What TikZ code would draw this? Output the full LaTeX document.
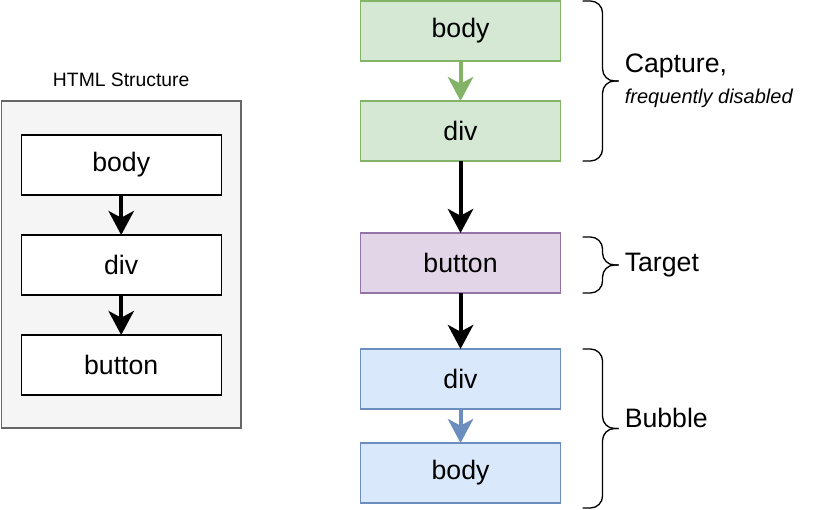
\documentclass[tikz,border=0pt]{standalone}
\usepackage{fontspec}
\setmainfont{Liberation Sans}
\usepackage{xcolor}
\usetikzlibrary{positioning, calc, arrows.meta}
\definecolor{panelfill}{HTML}{F5F5F5}
\definecolor{paneldraw}{HTML}{666666}
\definecolor{capfill}{HTML}{D5E8D4}
\definecolor{capdraw}{HTML}{82B366}
\definecolor{tgtfill}{HTML}{E1D5E7}
\definecolor{tgtdraw}{HTML}{9673A6}
\definecolor{bubfill}{HTML}{DAE8FC}
\definecolor{bubdraw}{HTML}{6C8EBF}
\tikzstyle{htmlbox} = [rectangle, minimum width=150pt, minimum height=45pt, text centered, draw=black, fill=white, line width=1pt, outer sep=0pt, font=\fontsize{20}{24}\selectfont]
\tikzstyle{capturestep} = [htmlbox, draw=capdraw, fill=capfill]
\tikzstyle{targetstep} = [htmlbox, draw=tgtdraw, fill=tgtfill]
\tikzstyle{bubblestep} = [htmlbox, draw=bubdraw, fill=bubfill]
\tikzstyle{panel} = [rectangle, minimum width=179.6pt, minimum height=245.25pt, draw=paneldraw, fill=panelfill, line width=1pt, outer sep=0pt]
\tikzstyle{arrow} = [line width=3pt, -{Stealth[length=18pt, width=19pt, inset=5pt]}]
\tikzstyle{bracket} = [line width=1pt, rounded corners=9pt]
\tikzstyle{phase} = [inner sep=0pt, align=left, font=\fontsize{20}{23.25}\selectfont]
\newcommand{\smallnote}{\fontsize{15}{18}\selectfont\itshape}

\begin{document}
\begin{tikzpicture}
    \useasboundingbox (0,0) rectangle (616.5pt,-382.5pt);
    % HTML structure on the left
    \node (panel) [panel] at (90.9pt,-198.4pt) {};
    \node (title) [above=10.5pt of panel, inner sep=0pt, font=\fontsize{14.5}{17}\selectfont] {HTML Structure};
    \node (lbody) [htmlbox, below=25.5pt of panel.north] {body};
    \node (ldiv) [htmlbox, below=30pt of lbody] {div};
    \node (lbutton) [htmlbox, below=30pt of ldiv] {button};
    \draw [arrow] (lbody) -- (ldiv);
    \draw [arrow] (ldiv) -- (lbutton);
    % event phases on the right
    \node (rbody) [capturestep] at (345.4pt,-23.25pt) {body};
    \node (rdiv) [capturestep, below=30pt of rbody] {div};
    \node (rbutton) [targetstep, below=54pt of rdiv] {button};
    \node (bdiv) [bubblestep, below=42pt of rbutton] {div};
    \node (bbody) [bubblestep, below=25.5pt of bdiv] {body};
    \draw [arrow, capdraw] (rbody) -- (rdiv);
    \draw [arrow] (rdiv) -- (rbutton);
    \draw [arrow] (rbutton) -- (bdiv);
    \draw [arrow, bubdraw] (bdiv) -- (bbody);
    % braces
    \coordinate (cap_mid) at ($(rbody.north east)!0.5!(rdiv.south east)+(31.5pt,0)$);
    \draw [bracket] ([xshift=16.5pt]rbody.north east) -| (cap_mid) -- ++(12pt,0);
    \draw [bracket] ([xshift=16.5pt]rdiv.south east) -| (cap_mid) -- ++(12pt,0);
    \coordinate (tgt_mid) at ($([yshift=-3pt]rbutton.north east)!0.5!(rbutton.south east)+(31.5pt,0)$);
    \draw [bracket] ([xshift=16.5pt,yshift=-3pt]rbutton.north east) -| (tgt_mid) -- ++(12pt,0);
    \draw [bracket] ([xshift=16.5pt]rbutton.south east) -| (tgt_mid) -- ++(12pt,0);
    \coordinate (bub_mid) at ($(bdiv.north east)!0.5!([yshift=-3.75pt]bbody.south east)+(31.5pt,0)$);
    \draw [bracket] ([xshift=16.5pt]bdiv.north east) -| (bub_mid) -- ++(12pt,0);
    \draw [bracket] ([xshift=16.5pt,yshift=-3.75pt]bbody.south east) -| (bub_mid) -- ++(12pt,0);
    \node (capture) [phase, anchor=west] at ([xshift=16.5pt]cap_mid) {Capture,\\{\smallnote frequently disabled}};
    \node (target) [phase, anchor=west] at ([xshift=16.5pt]tgt_mid) {Target};
    \node (bubble) [phase, anchor=base west] at ([xshift=16.5pt,yshift=1pt]bub_mid) {Bubble};
\end{tikzpicture}
\end{document}
